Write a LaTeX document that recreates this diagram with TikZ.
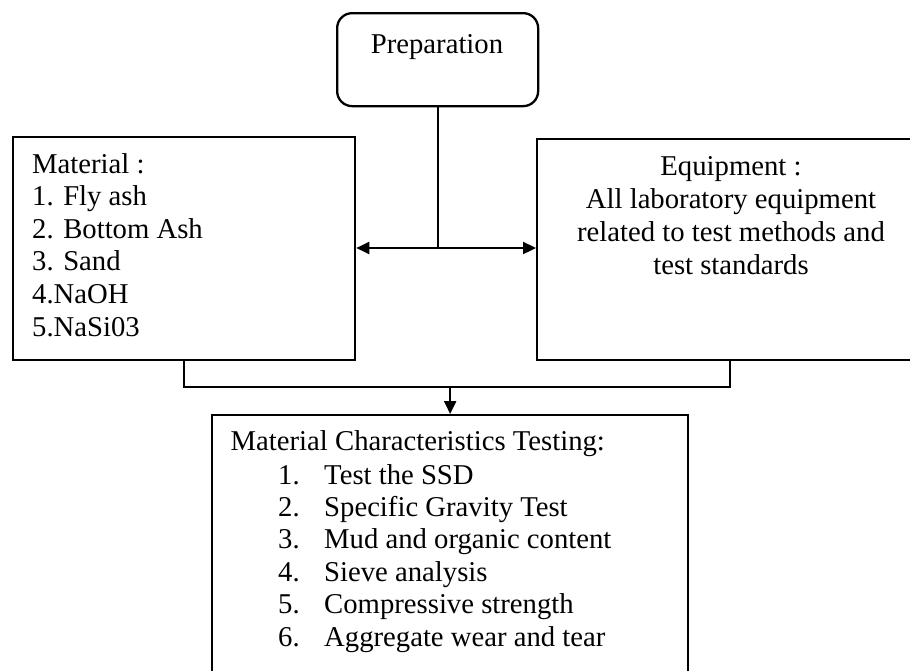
\documentclass[tikz,border=0pt]{standalone}
\usepackage{fontspec}
\setmainfont{Liberation Serif}
\usetikzlibrary{arrows.meta}
\begin{document}
\begin{tikzpicture}[x=1pt,y=-1pt,
  box/.style={draw,line width=2.3pt,inner sep=0pt,anchor=north west},
  txt/.style={inner sep=0pt,font=\fontsize{28.7}{32.6}\selectfont},
  conn/.style={line width=2.3pt},
  arr/.style={line width=2.3pt,-{Triangle[length=13pt,width=12pt]}}]
\useasboundingbox (0,0) rectangle (910,670);
% boxes
\node[box,rounded corners=15pt,minimum width=201pt,minimum height=93pt] (prep) at (336,12) {};
\node[box,minimum width=342pt,minimum height=223pt] (mat) at (12,136) {};
\node[box,minimum width=386pt,minimum height=221pt] (equip) at (536,138) {};
\node[box,minimum width=476pt,minimum height=276pt] (test) at (211,414) {};
% texts
\node[txt,anchor=base] (preptxt) at (437,53) {Preparation};
\node[txt,anchor=base west,align=left] (mattxt) at (32,336)
  {Material :\\1. Fly ash\\2. Bottom Ash\\3. Sand\\4.NaOH\\5.NaSi03};
\node[txt,anchor=base,align=center,font=\fontsize{28.7}{33}\selectfont] (equiptxt) at (731,274)
  {Equipment :\\All laboratory equipment\\related to test methods and\\test standards};
\node[txt,anchor=base west] (testtitle) at (230.5,450) {Material Characteristics Testing:};
\node[txt,anchor=base west,align=left,font=\fontsize{28.7}{32.4}\selectfont] (testnum) at (278,646)
  {1.\\2.\\3.\\4.\\5.\\6.};
\node[txt,anchor=base west,align=left,font=\fontsize{28.7}{32.4}\selectfont] (testitems) at (324,646)
  {Test the SSD\\Specific Gravity Test\\Mud and organic content\\Sieve analysis\\Compressive strength\\Aggregate wear and tear};
% connectors
\coordinate (j) at (prep.south |- 0,248);
\draw[conn] (prep.south) -- (j);
\draw[arr] (j) -- (mat.east |- j);
\draw[arr] (j) -- (equip.west |- j);
\coordinate (m) at (test.north |- 0,387);
\draw[conn] (mat.south) |- (m) -| (equip.south);
\draw[arr] (m) -- (test.north);
\end{tikzpicture}
\end{document}
